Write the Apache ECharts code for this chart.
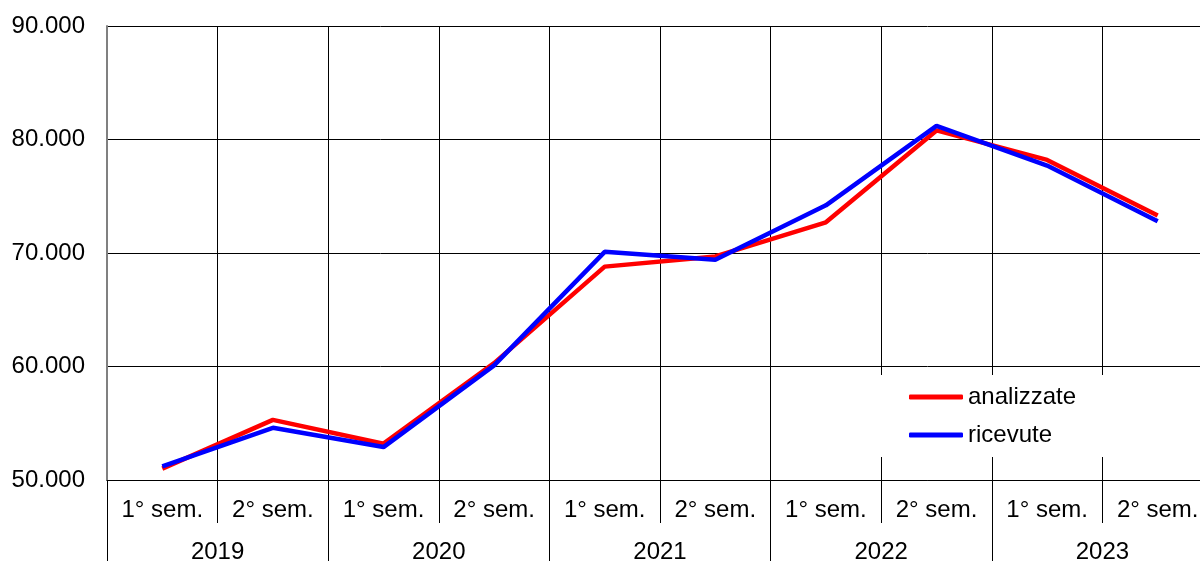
<!DOCTYPE html>
<html>
<head>
<meta charset="utf-8">
<script src="https://cdn.jsdelivr.net/npm/echarts@6/dist/echarts.min.js"></script>
<style>html,body{margin:0;padding:0;background:#fff;overflow:hidden}#c{width:1200px;height:561px}</style>
</head>
<body>
<div id="c"></div>
<script>
const semesters = ['1° sem.','2° sem.','1° sem.','2° sem.','1° sem.','2° sem.','1° sem.','2° sem.','1° sem.','2° sem.'];
const years = ['2019','2020','2021','2022','2023'];
const analizzate = [51000, 55300, 53200, 60300, 68800, 69700, 72700, 80800, 78200, 73300];
const ricevute   = [51200, 54600, 52900, 60100, 70100, 69400, 74200, 81200, 77700, 72800];

const FONT = 'Liberation Sans, Arial, sans-serif';
const FS = 24;
const chart = echarts.init(document.getElementById('c'));
chart.setOption({
  animation: false,
  grid: { left: 107, width: 1106, top: 26, height: 454, containLabel: false, outerBoundsMode: 'none' },
  legend: {
    orient: 'vertical',
    left: 880, top: 375,
    padding: [9, 60, 9, 29],
    backgroundColor: '#fff',
    itemWidth: 54, itemHeight: 5, itemGap: 12,
    icon: 'roundRect',
    textStyle: { fontFamily: FONT, fontSize: FS, color: '#000', lineHeight: 26 },
    data: ['analizzate', 'ricevute']
  },
  xAxis: [{
    type: 'category', data: semesters, position: 'bottom', boundaryGap: true,
    axisLine: { show: true, lineStyle: { color: '#000', width: 1 } },
    axisTick: { show: true, length: 43, interval: 0, lineStyle: { color: '#000' } },
    axisLabel: { interval: 0, margin: 18, fontFamily: FONT, fontSize: FS, color: '#000' },
    splitLine: { show: true, interval: 0, lineStyle: { color: '#000', width: 1 } }
  }, {
    type: 'category', data: years, position: 'bottom', boundaryGap: true,
    axisLine: { show: false },
    axisTick: { show: true, length: 81, interval: 0, lineStyle: { color: '#000' } },
    axisLabel: { interval: 0, margin: 60, fontFamily: FONT, fontSize: FS, color: '#000' },
    splitLine: { show: false }
  }],
  yAxis: {
    type: 'value', min: 50000, max: 90000, interval: 10000,
    axisLine: { show: true, lineStyle: { color: '#808080', width: 2 } },
    axisTick: { show: false },
    axisLabel: {
      margin: 22, fontFamily: FONT, fontSize: FS, color: '#000',
      formatter: v => v.toString().replace(/\B(?=(\d{3})+(?!\d))/g, '.')
    },
    splitLine: { show: true, lineStyle: { color: '#000', width: 1 } }
  },
  series: [{
    name: 'analizzate', type: 'line', data: analizzate, xAxisIndex: 0,
    symbol: 'none', lineStyle: { color: '#ff0000', width: 4.5 }, itemStyle: { color: '#ff0000' }
  }, {
    name: 'ricevute', type: 'line', data: ricevute, xAxisIndex: 0,
    symbol: 'none', lineStyle: { color: '#0000ff', width: 4.5 }, itemStyle: { color: '#0000ff' }
  }]
});
</script>
</body>
</html>
